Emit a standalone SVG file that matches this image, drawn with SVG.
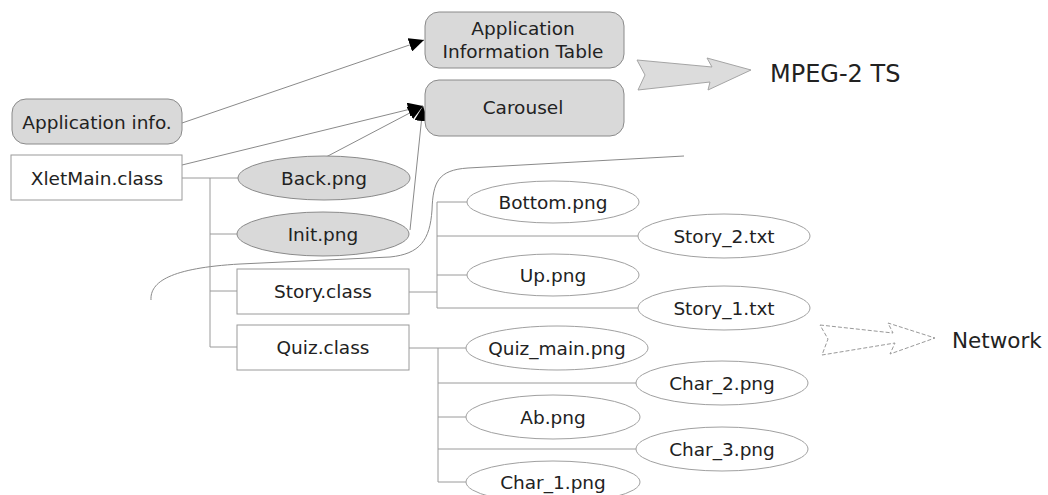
<svg xmlns="http://www.w3.org/2000/svg" width="1048" height="495" viewBox="0 0 1048 495">
<defs>
<style>
text{font-family:"DejaVu Sans","Noto Sans",sans-serif;font-size:18.5px;fill:#222;text-anchor:middle}
.gr{fill:#d9d9d9;stroke:#8a8a8a;stroke-width:1}
.wb{fill:#fff;stroke:#9a9a9a;stroke-width:1}
.we{fill:#fff;stroke:#a0a0a0;stroke-width:1}
.tree{fill:none;stroke:#9a9a9a;stroke-width:1}
.con{fill:none;stroke:#8a8a8a;stroke-width:1}
.big{font-size:24px;text-anchor:start}
</style>
<marker id="ah" markerUnits="userSpaceOnUse" markerWidth="16" markerHeight="14" refX="15" refY="7" orient="auto">
<path d="M0,0 L15,7 L0,14 z" fill="#000"/>
</marker>
</defs>

<g id="connectors">
<path class="tree" d="M182,178 H238 M210,178 V347 M210,234 H237 M210,291 H237 M210,347 H237"/>
<path class="tree" d="M409,292 H437 M437,202 V308 M437,202 H467 M437,236 H638 M437,275 H467 M437,308 H638"/>
<path class="tree" d="M409,348 H466 M438,348 V482 M438,383 H637 M438,417 H466 M438,449 H637 M438,482 H466"/>
<line class="con" x1="182" y1="123" x2="424" y2="40" marker-end="url(#ah)"/>
<line class="con" x1="182" y1="165" x2="423" y2="106" marker-end="url(#ah)"/>
<line class="con" x1="326" y1="157" x2="423" y2="106" marker-end="url(#ah)"/>
<line class="con" x1="410" y1="230" x2="423" y2="106" marker-end="url(#ah)"/>
<path class="con" stroke="#aaa" d="M151,300 C150,282 170,268 240,264 L390,257 C420,254 430,240 432,210 C433,182 438,170 468,168 L684,156"/>
</g>

<g id="app-info"><rect class="gr" x="12" y="99" width="170" height="45" rx="14"/><text x="97" y="129">Application info.</text></g>
<g id="xletmain"><rect class="wb" x="11" y="155" width="171" height="45"/><text x="97" y="185">XletMain.class</text></g>
<g id="ait"><rect class="gr" x="425" y="12" width="199" height="56" rx="14"/><text x="523" y="35">Application</text><text x="523" y="58">Information Table</text></g>
<g id="carousel"><rect class="gr" x="425" y="80" width="199" height="56" rx="14"/><text x="523" y="114">Carousel</text></g>
<g id="back"><ellipse class="gr" cx="324" cy="178" rx="86" ry="22"/><text x="324" y="185">Back.png</text></g>
<g id="init"><ellipse class="gr" cx="323" cy="234" rx="86" ry="22"/><text x="323" y="241">Init.png</text></g>
<g id="story"><rect class="wb" x="237" y="269" width="172" height="45"/><text x="323" y="298">Story.class</text></g>
<g id="quiz"><rect class="wb" x="237" y="325" width="172" height="45"/><text x="323" y="354">Quiz.class</text></g>
<g id="bottom"><ellipse class="we" cx="553" cy="202" rx="86" ry="21"/><text x="553" y="209">Bottom.png</text></g>
<g id="story2"><ellipse class="we" cx="724" cy="236" rx="86" ry="22"/><text x="724" y="243">Story_2.txt</text></g>
<g id="up"><ellipse class="we" cx="553" cy="275" rx="86" ry="21"/><text x="553" y="282">Up.png</text></g>
<g id="story1"><ellipse class="we" cx="724" cy="308" rx="86" ry="22"/><text x="724" y="315">Story_1.txt</text></g>
<g id="quizmain"><ellipse class="we" cx="557" cy="348" rx="91" ry="22"/><text x="557" y="355">Quiz_main.png</text></g>
<g id="char2"><ellipse class="we" cx="722" cy="383" rx="86" ry="22"/><text x="722" y="390">Char_2.png</text></g>
<g id="ab"><ellipse class="we" cx="553" cy="417" rx="87" ry="22"/><text x="553" y="424">Ab.png</text></g>
<g id="char3"><ellipse class="we" cx="722" cy="449" rx="86" ry="22"/><text x="722" y="456">Char_3.png</text></g>
<g id="char1"><ellipse class="we" cx="553" cy="482" rx="87" ry="21"/><text x="553" y="489">Char_1.png</text></g>

<g id="mpeg">
<polygon points="637,60 712,67 707,58 751,70 708,90 710,82 638,90 645,75" fill="#dcdcdc" stroke="#a5a5a5" stroke-width="1"/>
<text class="big" x="770" y="82">MPEG-2 TS</text>
</g>
<g id="network">
<polygon points="820,325 893,333 888,323 935,338 890,354 895,343 822,355 828,339" fill="none" stroke="#999" stroke-width="1" stroke-dasharray="4,2"/>
<text x="952" y="348" style="font-size:21.5px;text-anchor:start">Network</text>
</g>
</svg>
